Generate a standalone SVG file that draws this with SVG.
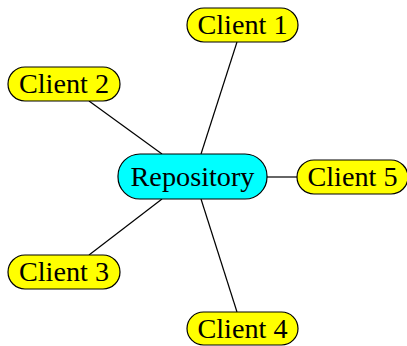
<svg xmlns="http://www.w3.org/2000/svg" width="407" height="346" viewBox="0 0 407 346">
<style>
.n{stroke:#000;stroke-width:1.2}
.c{fill:#ffff00}
.r{fill:#00ffff}
text{font-family:"Liberation Serif","DejaVu Serif",serif;font-size:26.5px;fill:#000;text-anchor:middle}
.e line{stroke:#000;stroke-width:1.2}
</style>
<rect width="407" height="346" fill="#fff"/>
<g class="e" id="connectors">
<line x1="201" y1="154" x2="237" y2="42"/>
<line x1="89" y1="101" x2="162" y2="154"/>
<line x1="267" y1="177" x2="297" y2="177"/>
<line x1="89" y1="255" x2="162" y2="199"/>
<line x1="201" y1="199" x2="237" y2="312"/>
</g>
<g id="repository"><rect class="n r" x="118" y="154" width="149" height="45" rx="22" ry="22"/><text x="192.5" y="186" textLength="124" lengthAdjust="spacingAndGlyphs">Repository</text></g>
<g id="client1"><rect class="n c" x="187" y="8" width="111" height="34" rx="17" ry="17"/><text x="242.5" y="34" textLength="90" lengthAdjust="spacingAndGlyphs">Client 1</text></g>
<g id="client2"><rect class="n c" x="8" y="67" width="112" height="34" rx="17" ry="17"/><text x="64" y="93" textLength="90" lengthAdjust="spacingAndGlyphs">Client 2</text></g>
<g id="client5"><rect class="n c" x="297" y="160" width="111" height="34" rx="17" ry="17"/><text x="352.5" y="186" textLength="90" lengthAdjust="spacingAndGlyphs">Client 5</text></g>
<g id="client3"><rect class="n c" x="8" y="255" width="112" height="34" rx="17" ry="17"/><text x="64" y="281" textLength="90" lengthAdjust="spacingAndGlyphs">Client 3</text></g>
<g id="client4"><rect class="n c" x="187" y="312" width="111" height="33" rx="16.5" ry="16.5"/><text x="242.5" y="338" textLength="90" lengthAdjust="spacingAndGlyphs">Client 4</text></g>
</svg>
